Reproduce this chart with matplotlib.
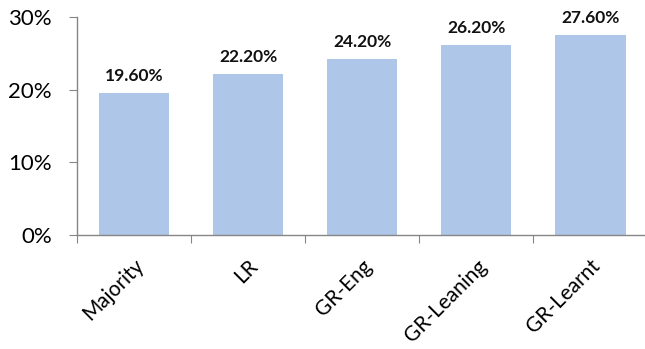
import numpy as np
import matplotlib.pyplot as plt
from matplotlib.ticker import FuncFormatter

# data
methods = ['Majority', 'LR', 'GR-Eng', 'GR-Leaning', 'GR-Learnt']
accuracy = [0.196, 0.222, 0.242, 0.262, 0.276]

plt.rcParams['font.family'] = ['Lato', 'DejaVu Sans']

fig = plt.figure(figsize=(6.45, 3.49), dpi=100)
ax = fig.add_axes([0.1194, 0.327, 0.884, 0.624])

x = np.arange(len(methods))
bars = ax.bar(x, accuracy, width=0.62, color='#AEC6E8', zorder=2)

for b, v in zip(bars, accuracy):
    ax.text(b.get_x() + b.get_width() / 2, v + 0.012, '%.2f%%' % (v * 100),
            ha='center', va='bottom', fontsize=12.5, fontweight='bold', color='#111111')

ax.set_xlim(-0.5, len(methods) - 0.5)
ax.set_ylim(0, 0.30)
ax.set_yticks([0, 0.1, 0.2, 0.3])
ax.yaxis.set_major_formatter(FuncFormatter(lambda v, p: '%d%%' % round(v * 100)))

# category separators as ticks, labels at centers
ax.set_xticks(np.arange(len(methods) + 1) - 0.5)
ax.set_xticklabels([])
ax.set_xticks(x, minor=True)
ax.set_xticklabels(methods, minor=True, rotation=45, ha='right', va='top',
                   rotation_mode='anchor', fontsize=15)
ax.tick_params(axis='x', which='minor', length=0, pad=15)
ax.tick_params(axis='x', which='major', length=6, color='#868686', direction='out')
ax.tick_params(axis='y', length=6, color='#868686', labelsize=16, pad=12)

for s in ['top', 'right']:
    ax.spines[s].set_visible(False)
for s in ['left', 'bottom']:
    ax.spines[s].set_color('#868686')
    ax.spines[s].set_linewidth(1.0)

fig.savefig('out.png', dpi=100)
